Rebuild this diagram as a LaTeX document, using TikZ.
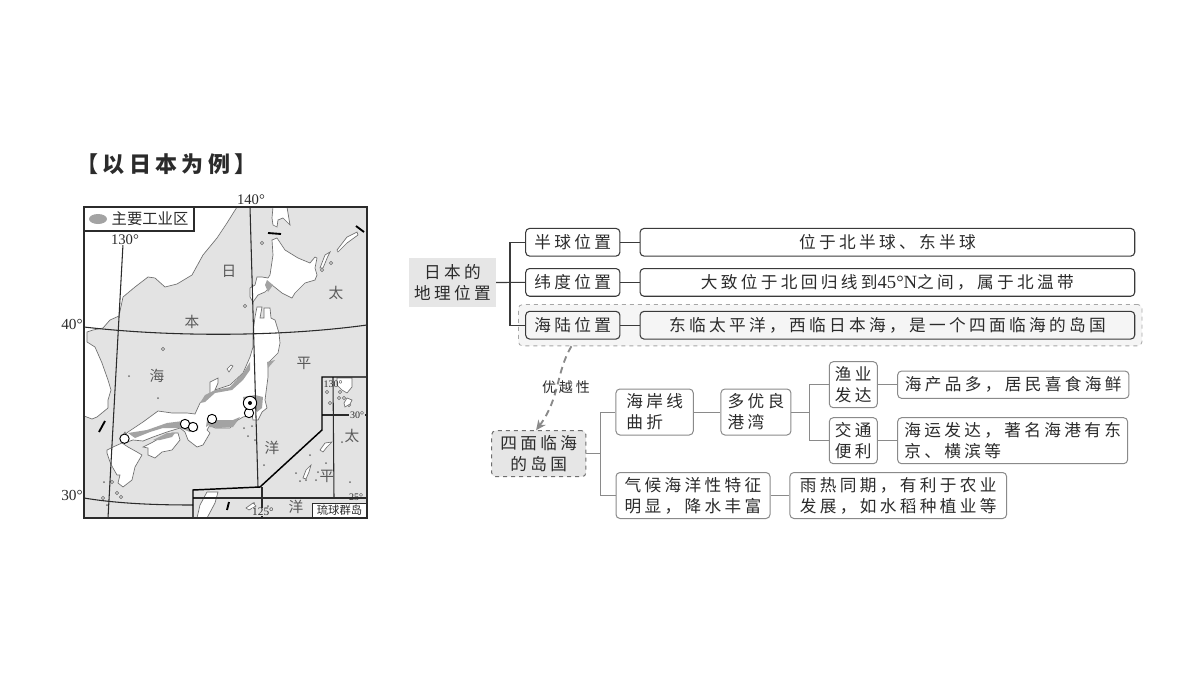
\documentclass[tikz,border=0pt]{standalone}
\usepackage{fontspec}
\setmainfont{Liberation Serif}
\newfontfamily\cjk[LetterSpace=20]{Noto Sans CJK SC}
\newfontfamily\cjkplain{Noto Sans CJK SC}
\usetikzlibrary{arrows.meta,positioning,calc,fit,backgrounds}
\definecolor{InkDark}{HTML}{2B2B2B}
\definecolor{LineDark}{HTML}{3A3A3A}
\definecolor{LineGray}{HTML}{8A8A8A}
\definecolor{SoftGray}{HTML}{E6E6E6}
\definecolor{PaleGray}{HTML}{F5F5F5}
\definecolor{SeaGray}{HTML}{E3E3E3}
\definecolor{ZoneGray}{HTML}{A3A3A3}
\definecolor{CoastGray}{HTML}{6E6E6E}
\tikzset{
  boxtext/.style={font=\cjk\fontsize{12.5}{15.8}\selectfont, text=InkDark, align=center, inner sep=0pt},
  rootbox/.style={boxtext, fill=SoftGray, minimum width=65.2pt, minimum height=36.8pt},
  rowbox/.style={boxtext, rounded corners=3pt, draw=LineDark, line width=0.8pt, fill=white, minimum width=70.7pt, minimum height=20.8pt},
  descbox/.style={rowbox, minimum width=371pt},
  treebox/.style={boxtext, rounded corners=3pt, draw=LineGray, line width=0.75pt, fill=white, minimum height=34.5pt},
  islebox/.style={treebox, dashed, draw=CoastGray, fill=SoftGray, minimum width=70.7pt},
  darkline/.style={line width=0.8pt, draw=LineDark},
  grayline/.style={line width=0.75pt, draw=LineGray},
  linkarrow/.style={-{Stealth[length=2.6mm,width=2.4mm]}, line width=1.4pt, dash pattern=on 5pt off 3.5pt, draw=LineGray},
  land/.style={fill=white, draw=CoastGray, line width=0.5pt},
  zone/.style={fill=ZoneGray, draw=none},
  grid/.style={line width=0.8pt, draw=InkDark},
  inset/.style={line width=1.1pt, draw=black},
  sealabel/.style={font=\cjkplain\fontsize{11}{11}\selectfont, text=black!65, inner sep=0pt},
  deglabel/.style={font=\fontsize{11}{11}\selectfont, text=InkDark, inner sep=0pt},
  smalldeg/.style={font=\fontsize{7.5}{8}\selectfont, text=InkDark, inner sep=0pt},
  city/.style={circle, fill=white, draw=black, line width=0.7pt, minimum size=7pt, inner sep=0pt}
}
\begin{document}
\begin{tikzpicture}[x=0.75pt, y=-0.75pt]
  \useasboundingbox (0,0) rectangle (1200,675);

  \node[font=\cjk\bfseries\fontsize{16.5}{18}\selectfont, text=InkDark, anchor=west, inner sep=0pt] (heading) at (76,164) {【以日本为例】};

  % map
  \fill[SeaGray] (84,207) rectangle (367,518);
  \draw[land] (84,207) -- (237,207) -- (227,223) -- (217,238) -- (203,255) -- (192,275) -- (177,284) -- (165,287) -- (155,278) -- (148,277) -- (135,287) -- (123,297) -- (119,316) -- (110,320) -- (103,328) -- (93,330) -- (87,332) -- (87,342) -- (95,347) -- (102,363) -- (108,380) -- (111,390) -- (108,400) -- (108,408) -- (97,417) -- (92,419) -- (84,416) -- cycle;
  % sakhalin, hokkaido
  \draw[land] (273,207) -- (272,218) -- (273,225) -- (277,227) -- (278,220) -- (283,218) -- (290,225) -- (287,207) -- cycle;
  \draw[land] (272,240) -- (277,238) -- (285,250) -- (298,258) -- (310,263) -- (315,257) -- (317,258) -- (315,268) -- (317,275) -- (315,280) -- (305,283) -- (295,293) -- (292,298) -- (282,293) -- (272,285) -- (265,292) -- (258,295) -- (253,302) -- (250,297) -- (250,288) -- (255,285) -- (257,277) -- (262,277) -- (268,278) -- (270,275) -- (273,255) -- cycle;
  \draw[land] (320,268) -- (325,255) -- (330,252) -- (328,256) -- (323,268) -- cycle;
  \draw[land] (337,250) -- (347,237) -- (357,232) -- (358,235) -- (347,243) -- (338,252) -- cycle;
  % honshu
  \draw[land] (121,438) -- (128,432) -- (143,422) -- (158,411) -- (172,413) -- (187,413) -- (195,414) -- (200,403) -- (210,393) -- (210,382) -- (218,378) -- (218,383) -- (215,390) -- (230,385) -- (243,373) -- (250,357) -- (253,347) -- (253,333) -- (255,317) -- (257,307) -- (262,307) -- (260,318) -- (264,318) -- (264,308) -- (270,308) -- (271,318) -- (275,320) -- (279,333) -- (280,343) -- (278,353) -- (268,363) -- (268,377) -- (265,400) -- (267,408) -- (262,412) -- (258,420) -- (253,420) -- (252,415) -- (243,417) -- (238,420) -- (230,428) -- (215,428) -- (210,425) -- (207,430) -- (210,433) -- (203,445) -- (197,447) -- (188,440) -- (185,432) -- (180,428) -- (167,432) -- (153,437) -- (143,441) -- (133,440) -- (127,442) -- cycle;
  % shikoku, kyushu
  \draw[land] (143,447) -- (153,442) -- (160,438) -- (172,433) -- (178,433) -- (180,440) -- (172,450) -- (162,452) -- (155,458) -- (148,455) -- (148,448) -- cycle;
  \draw[land] (107,450) -- (113,447) -- (122,443) -- (128,447) -- (137,452) -- (142,455) -- (135,467) -- (132,480) -- (123,487) -- (118,483) -- (120,475) -- (117,475) -- (113,468) -- (110,462) -- (107,453) -- cycle;
  % industrial zones
  \fill[zone] (267,280) -- (273,285) -- (268,292) -- (265,285) -- cycle;
  \fill[zone] (200,403) -- (205,395) -- (215,390) -- (230,387) -- (243,373) -- (250,362) -- (250,370) -- (243,380) -- (232,390) -- (215,393) -- (205,402) -- cycle;
  \fill[zone] (267,362) -- (275,360) -- (268,368) -- cycle;
  \fill[zone] (243,397) -- (255,395) -- (263,397) -- (262,408) -- (257,412) -- (253,405) -- (245,408) -- cycle;
  \fill[zone] (208,423) -- (213,420) -- (233,420) -- (240,417) -- (233,427) -- (218,428) -- (210,427) -- cycle;
  \fill[zone] (206,427) -- (207,420) -- (212,415) -- (212,423) -- cycle;
  \fill[zone] (128,433) -- (147,430) -- (167,423) -- (183,421) -- (190,422) -- (198,425) -- (198,430) -- (190,432) -- (180,428) -- (163,428) -- (150,432) -- (135,438) -- cycle;
  \fill[zone] (153,440) -- (167,433) -- (175,433) -- (172,437) -- (160,440) -- cycle;
  % small islands
  \foreach \px/\py in {245/306, 262/243, 331/263, 322/270, 163/349, 117/493, 112/482, 103/498, 121/497, 343/385, 347/385, 339/398, 344/398, 349/405, 340/392, 327/392, 330/403} {
    \draw[land] (\px,\py) circle (1.6);
  }
  \foreach \px/\py in {129/376, 158/398, 244/428, 248/436, 252/426, 255/440, 264/465, 342/442, 316/480, 326/463, 318/472, 310/455, 350/482, 296/473, 300/481, 306/480, 254/503, 268/506, 104/482, 107/505} {
    \fill[CoastGray] (\px,\py) circle (1);
  }
  \draw[land] (123,435) -- (125,432) -- (126,434) -- cycle;
  \draw[land] (227,369) -- (231,365) -- (233,366) -- (229,372) -- cycle;
  \draw[land] (303,478) -- (306,470) -- (311,465) -- (309,472) -- (306,479) -- cycle;
  \draw[land] (320,450) -- (325,443) -- (332,442) -- (327,447) -- (323,452) -- cycle;
  \draw[land] (246,508) -- (253,503) -- (256,506) -- (249,510) -- cycle;
  \draw[land] (337,378) -- (352,378) -- (352,387) -- (347,393) -- (342,390) -- (337,385) -- cycle;
  \draw[land] (207,492) -- (218,492) -- (215,503) -- (207,518) -- (197,518) -- (200,505) -- cycle;
  \draw[land] (345,407) -- (350,404) -- (352,400) -- (347,398) -- (344,403) -- cycle;
  % graticule
  \draw[grid] (123.5,235) -- (108,518);
  \draw[grid] (250,207) -- (258,487);
  \draw[grid] (262,487) -- (262,518);
  \draw[grid] (333,377) -- (334,498);
  \draw[grid] (84,327) .. controls (170,337) and (280,337) .. (367,325);
  \draw[grid] (84,498) .. controls (120,504) and (160,505) .. (193,505);
  \draw[grid] (193,498) -- (367,498);
  \draw[grid] (322,415) -- (367,415);
  % inset frame
  \draw[inset] (193,518) -- (193,490) -- (260,487) -- (322,430) -- (322,377) -- (367,377);
  % black ticks
  \draw[line width=1.4pt] (356,226) -- (364,232);
  \draw[line width=1.4pt] (268,233) -- (281,234);
  \draw[line width=1.4pt] (99,432) -- (105,421);
  \draw[line width=1.4pt] (227,510) -- (229,502);
  % cities
  \node[city] (shimonoseki) at (124.5,438.7) {};
  \node[city] (okayama) at (185,424) {};
  \node[city] (osaka) at (193,427) {};
  \node[city] (nagoya) at (212,419) {};
  \node[city] (yokohama) at (249,413) {};
  \node[city, minimum size=10pt] (tokyo) at (250,403) {};
  \fill (tokyo) circle (2);
  % sea names
  \node[sealabel] (ri) at (229,271) {日};
  \node[sealabel] (ben) at (192,322) {本};
  \node[sealabel] (hai) at (157,376) {海};
  \node[sealabel] (tai) at (336,293) {太};
  \node[sealabel] (ping) at (304,363) {平};
  \node[sealabel] (yang) at (272,448) {洋};
  \node[sealabel] (taib) at (352,436) {太};
  \node[sealabel] (pingb) at (327,476) {平};
  \node[sealabel] (yangb) at (296,507) {洋};
  \node[smalldeg] (degcbox) at (333,384) {130°};
  \node[smalldeg, fill=SeaGray, inner xsep=1pt] (degthirtyb) at (357,415) {30°};
  \node[smalldeg] (degtwentyfive) at (356,497) {25°};
  \node[smalldeg, font=\fontsize{8.5}{9}\selectfont, fill=SeaGray, inner xsep=0.5pt] (degonetwofive) at (263,512) {125°};
  % frame
  \draw[line width=1.1pt, draw=InkDark] (84,207) rectangle (367,518);
  \node[deglabel, anchor=south] (degforty) at (251,205) {140°};
  \node[deglabel, fill=white, inner xsep=1pt, inner ysep=0.5pt] (degthirty) at (125,239.5) {130°};
  \node[deglabel, anchor=east, font=\fontsize{11.5}{12}\selectfont] (lat40) at (83,324) {40°};
  \node[deglabel, anchor=east, font=\fontsize{11.5}{12}\selectfont] (lat30) at (83,495) {30°};
  % legend
  \draw[line width=1pt, draw=InkDark, fill=white] (84,207) rectangle (194,231);
  \fill[ZoneGray] (98,219) ellipse (9 and 5);
  \node[font=\cjkplain\fontsize{11.5}{12}\selectfont, text=InkDark, inner sep=0pt] (legendtext) at (150,219) {主要工业区};
  \node[draw=InkDark, line width=0.8pt, fill=white, font=\cjkplain\fontsize{8.5}{9}\selectfont, text=InkDark, inner sep=0pt, minimum width=41pt, minimum height=11pt] (ryukyu) at (339.5,510.5) {琉球群岛};

  % upper tree
  \node[rootbox] (root) at (452.5,282.5) {日本的\\地理位置};
  \node[rowbox] (lat) at (572.8,282.4) {纬度位置};
  \node[rowbox, above=8.5pt of lat] (hemi) {半球位置};
  \node[rowbox, below=10.5pt of lat, fill=PaleGray] (sea) {海陆位置};
  \node[descbox, right=14.3pt of hemi] (hemitext) {位于北半球、东半球};
  \node[descbox, right=14.3pt of lat] (lattext) {大致位于北回归线到{\rmfamily\fontsize{14}{15.8}\selectfont 45°N}之间，属于北温带};
  \node[descbox, right=14.3pt of sea, fill=PaleGray] (seatext) {东临太平洋，西临日本海，是一个四面临海的岛国};
  \begin{scope}[on background layer]
    \node[fit=(sea)(seatext), rounded corners=3pt, dashed, draw=black!35, line width=0.6pt, fill=PaleGray, inner xsep=5pt, inner ysep=4.7pt] (seahalo) {};
  \end{scope}
  \coordinate (rootjoin) at (510,282.4);
  \draw[darkline] (root.east) -- (lat.west);
  \draw[darkline] (rootjoin) |- (hemi.west);
  \draw[darkline] (rootjoin) |- (sea.west);
  \draw[darkline] (hemi) -- (hemitext);
  \draw[darkline] (lat) -- (lattext);
  \draw[darkline] (sea) -- (seatext);

  % lower tree
  \node[islebox] (isle) at (538.8,453.7) {四面临海\\的岛国};
  \node[treebox, align=left, minimum width=58pt] (coast) at (654.6,412) {海岸线\\曲折};
  \node[treebox, align=left, minimum width=52.5pt, right=20pt of coast] (harbor) {多优良\\港湾};
  \node[treebox, minimum width=36pt] (fish) at (853.3,384.7) {渔业\\发达};
  \node[treebox, minimum width=36pt, below=6.75pt of fish] (trans) {交通\\便利};
  \node[treebox, align=left, minimum width=173.5pt, minimum height=20.5pt, right=14.5pt of fish] (fishtext) {海产品多，居民喜食海鲜};
  \node[treebox, align=left, minimum width=172.5pt, right=14.5pt of trans] (transtext) {海运发达，著名海港有东\\京、横滨等};
  \node[treebox, align=left, minimum width=115.5pt] (climate) at (693,495.5) {气候海洋性特征\\明显，降水丰富};
  \node[treebox, align=left, minimum width=162.5pt, right=14.2pt of climate] (rain) {雨热同期，有利于农业\\发展，如水稻种植业等};
  \coordinate (islejoin) at (600,453.7);
  \coordinate (harborjoin) at (809.3,412);
  \draw[grayline] (isle.east) -- (islejoin);
  \draw[grayline] (islejoin) |- (coast.west);
  \draw[grayline] (islejoin) |- (climate.west);
  \draw[grayline] (coast) -- (harbor);
  \draw[grayline] (harbor.east) -- (harborjoin);
  \draw[grayline] (harborjoin) |- (fish.west);
  \draw[grayline] (harborjoin) |- (trans.west);
  \draw[grayline] (fish) -- (fishtext);
  \draw[grayline] (trans) -- (transtext);
  \draw[grayline] (climate) -- (rain);

  \draw[linkarrow] ([xshift=40pt]seahalo.south west) .. controls (556,372) and (560,398) .. ([xshift=-2pt]isle.north);
  \node[font=\cjk\fontsize{10.5}{11}\selectfont, text=InkDark, inner sep=1pt] (advantage) at (566,387) {优越性};
\end{tikzpicture}
\end{document}
